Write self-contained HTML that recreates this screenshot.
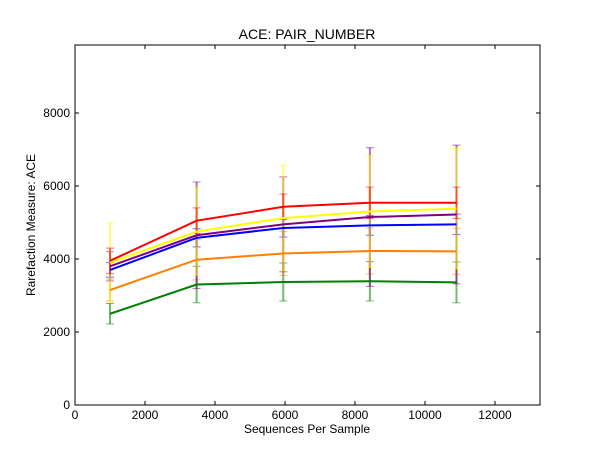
<!DOCTYPE html>
<html><head><meta charset="utf-8"><style>
body{margin:0;background:#fff;}
svg{display:block;font-family:"Liberation Sans","DejaVu Sans",sans-serif;}
</style></head><body>
<svg id="chart" width="600" height="450" viewBox="0 0 600 450">
<rect width="600" height="450" fill="#fff"/>
<text x="307" y="39" font-size="14" text-anchor="middle">ACE: PAIR_NUMBER</text>
<g id="plot"></g>
<rect x="75" y="45" width="465" height="360" fill="none" stroke="#000" stroke-width="1"/>
<text x="307" y="433" font-size="12" text-anchor="middle">Sequences Per Sample</text>
<text transform="translate(35,225) rotate(-90)" font-size="12" text-anchor="middle">Rarefaction Measure: ACE</text>
</svg>
<script>
const xValues=[1000,3475,5950,8425,10900];
const seriesNames=["green","orange","blue","purple","yellow","red"];
const greenVals=[2500,3300,3370,3390,3360];
const orangeVals=[3150,3980,4150,4220,4210];
const blueVals=[3700,4580,4850,4920,4950];
const purpleVals=[3800,4650,4950,5150,5220];
const yellowVals=[3900,4750,5120,5300,5380];
const redVals=[3950,5050,5430,5540,5540];
const greenErr=[280,500,520,540,560];
const orangeErr=[300,550,600,630,630];
const blueErr=[200,250,250,270,280];
const purpleErr=[400,1460,1300,1900,1900];
const yellowErr=[1090,1200,1450,1530,1650];
const redErr=[350,350,350,430,430];
const xTicks=[0,2000,4000,6000,8000,10000,12000];
const yTicks=[0,2000,4000,6000,8000];

const X=v=>75+v*(465/13286);
const Y=v=>405-v*(360/9863);
const NS="http://www.w3.org/2000/svg";
const g=document.getElementById('plot');
function mk(t,a){const e=document.createElementNS(NS,t);for(const k in a)e.setAttribute(k,a[k]);g.appendChild(e);return e;}

xTicks.forEach(t=>{
 const l=mk('line',{x1:X(t),x2:X(t),y1:405,y2:401,stroke:'#000'});
 
 
 mk('line',{x1:X(t),x2:X(t),y1:45,y2:49,stroke:'#000'});
 const tx=mk('text',{x:X(t),y:419,'font-size':12,'text-anchor':'middle'});tx.textContent=t;
 
 
});
yTicks.forEach(t=>{
 const l=mk('line',{x1:75,x2:79,y1:Y(t),y2:Y(t),stroke:'#000'});
 
 
 mk('line',{x1:536,x2:540,y1:Y(t),y2:Y(t),stroke:'#000'});
 const tx=mk('text',{x:70,y:Y(t)+4,'font-size':12,'text-anchor':'end'});tx.textContent=t;
 
 
});

const series=[
 {vals:greenVals,err:greenErr,c:'#008000'},
 {vals:orangeVals,err:orangeErr,c:'#ff7f00'},
 {vals:blueVals,err:blueErr,c:'#0000ff'},
 {vals:purpleVals,err:purpleErr,c:'#800080'},
 {vals:yellowVals,err:yellowErr,c:'#ffff00'},
 {vals:redVals,err:redErr,c:'#ff0000'}];
// error bars
series.forEach((s,si)=>{
 s.vals.forEach((v,i)=>{
  const x=X(xValues[i]),y1=Y(v-s.err[i]),y2=Y(v+s.err[i]);
  const eb=mk('line',{x1:x,x2:x,y1:y1,y2:y2,stroke:s.c,'stroke-opacity':0.55,'stroke-width':2});
  
  
  mk('line',{x1:x-4,x2:x+4,y1:y1,y2:y1,stroke:s.c,'stroke-opacity':0.55});
  mk('line',{x1:x-4,x2:x+4,y1:y2,y2:y2,stroke:s.c,'stroke-opacity':0.55});
 });
});
series.forEach((s,si)=>{
 const p=mk('polyline',{points:s.vals.map((v,i)=>X(xValues[i])+','+Y(v)).join(' '),fill:'none',stroke:s.c,'stroke-width':2});
 
 
});
</script>
</body></html>
